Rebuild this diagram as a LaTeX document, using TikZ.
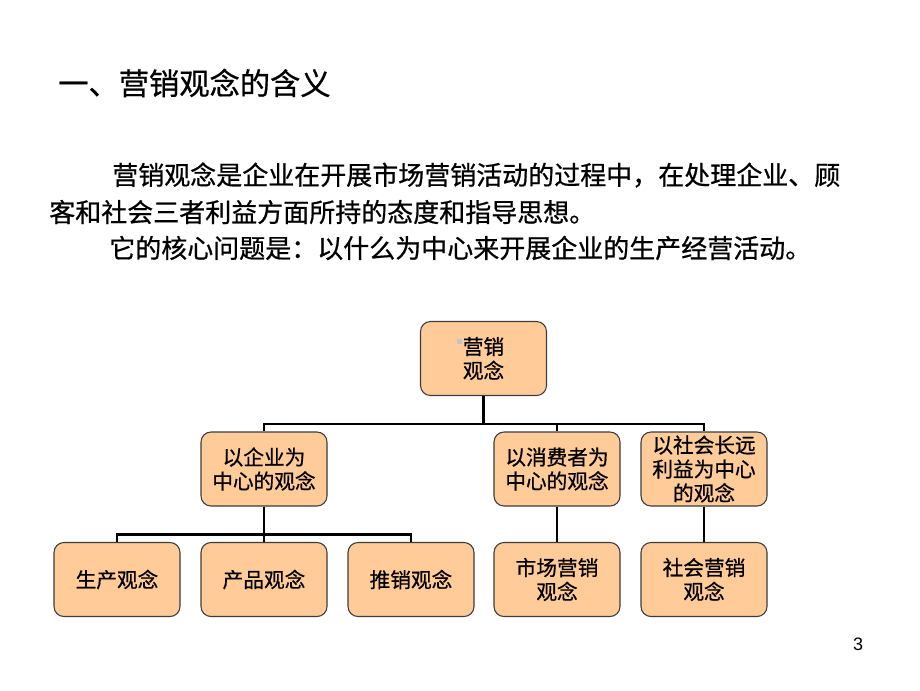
\documentclass[tikz,border=0pt]{standalone}
\usepackage{fontspec}
\setmainfont{Liberation Sans}
\newfontfamily\cjk{Noto Sans CJK SC}[FakeBold=0.7]

\definecolor{kasten_orange}{RGB}{255,204,153}
\definecolor{kasten_rand}{RGB}{60,60,60}
\definecolor{kasten_marke}{RGB}{195,195,195}

\begin{document}
\begin{tikzpicture}[
      x=0.75pt,
      y=-0.75pt,
      kasten/.style={
        draw=kasten_rand,
        line width=0.8pt,
        fill=kasten_orange,
        rounded corners=7.5pt,
        minimum width=94.5pt,
        minimum height=55.5pt,
        inner sep=0pt,
        align=center,
        font=\cjk\fontsize{15.5}{18}\selectfont
      },
      zeile/.style={
        anchor=west,
        inner sep=0pt,
        font=\cjk\fontsize{19.5}{24}\selectfont
      },
      verbindung/.style={line width=2pt, black}
    ]

      \useasboundingbox (0,0) rectangle (920,690);

      % Titel
      \node [zeile, font=\cjk\fontsize{22.7}{27}\selectfont] (titel) at (58,83) {一、营销观念的含义};

      % Text
      \node [zeile] (zeile_a) at (112,175) {营销观念是企业在开展市场营销活动的过程中，在处理企业、顾};
      \node [zeile] (zeile_b) at (49,212) {客和社会三者利益方面所持的态度和指导思想。};
      \node [zeile] (zeile_c) at (109,248) {它的核心问题是：以什么为中心来开展企业的生产经营活动。};

      % Kaesten
      \node [kasten] (wurzel) at (483.5,358.5) {营销\\观念};
      \node [kasten] (unternehmen) at (264,469) {以企业为\\中心的观念};
      \node [kasten] (verbraucher) at (557,469) {以消费者为\\中心的观念};
      \node [kasten] (gesellschaft) at (704,469) {以社会长远\\利益为中心\\的观念};

      \node [kasten] (produktion) at (117,579.5) {生产观念};
      \node [kasten] (produkt) at (264,579.5) {产品观念};
      \node [kasten] (verkauf) at (411,579.5) {推销观念};
      \node [kasten] (markt) at (557,579.5) {市场营销\\观念};
      \node [kasten] (sozial) at (704,579.5) {社会营销\\观念};

      % Marke
      \fill [kasten_marke] ([shift={(-26.5,-19.5)}]wurzel.center) rectangle ++(5,5);

      % Verbindungen
      \draw [verbindung] (wurzel.south) -- ++(0,28) -| (unternehmen.north);
      \draw [verbindung] (wurzel.south) -- ++(0,28) -| (verbraucher.north);
      \draw [verbindung] (wurzel.south) -- ++(0,28) -| (gesellschaft.north);

      \draw [verbindung] (unternehmen.south) -- ++(0,28) -| (produktion.north);
      \draw [verbindung] (unternehmen.south) -- (produkt.north);
      \draw [verbindung] (unternehmen.south) -- ++(0,28) -| (verkauf.north);
      \draw [verbindung] (verbraucher.south) -- (markt.north);
      \draw [verbindung] (gesellschaft.south) -- (sozial.north);

      % Seite
      \node [font=\fontsize{13.5}{16}\selectfont, inner sep=0pt] (seite) at (858,644) {3};
    \end{tikzpicture}
\end{document}
